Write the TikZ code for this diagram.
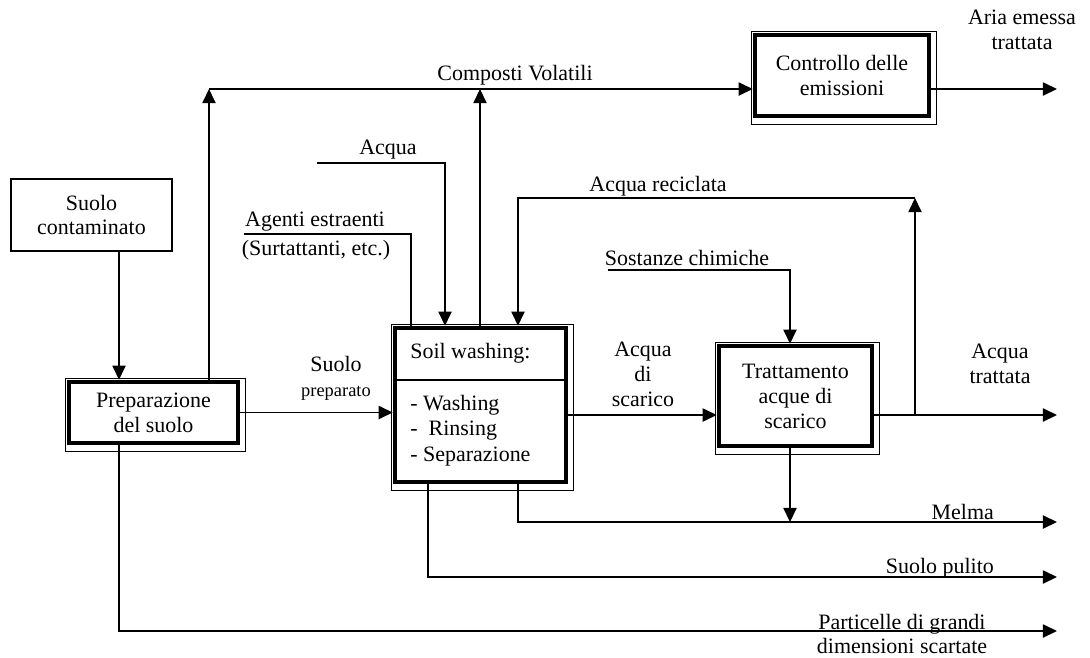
\documentclass[tikz,border=0pt]{standalone}
\usepackage{fontspec}
\setmainfont{Liberation Serif}
\usetikzlibrary{arrows.meta}

\tikzset{
  thinline/.style={line width=0.8pt},
  flow/.style={thinline, -{Triangle[length=8pt,width=7.5pt]}},
  inbox/.style={draw, thinline, align=center},
  procbox/.style={draw, line width=2.6pt, align=center},
  lbl/.style={align=center, inner sep=1pt},
  item/.style={anchor=west, inner sep=0pt},
}
% thin outer frame round a process box
\newcommand{\procframe}[1]{%
  \draw[line width=0.6pt] ([shift={(-1,-1)}]#1.north west) rectangle ([shift={(5,6)}]#1.south east);}

\begin{document}
\begin{tikzpicture}[x=0.02cm, y=-0.02cm, font=\fontsize{12.5}{14.2}\selectfont]
    \useasboundingbox (0,0) rectangle (1090,657);

    % Boxes
    \node[inbox, minimum width=3.22cm, minimum height=1.44cm] (cont) at (91.5,215) {Suolo\\contaminato};
    \node[procbox, minimum width=3.38cm, minimum height=1.22cm] (prep) at (153.5,412.5) {Preparazione\\del suolo};
    \node[procbox, minimum width=3.42cm, minimum height=3.08cm] (wash) at (480.5,405) {};
    \node[procbox, minimum width=3.06cm, minimum height=2.0cm] (tratt) at (795.5,396) {Trattamento\\acque di\\scarico};
    \node[procbox, minimum width=3.48cm, minimum height=1.62cm] (ctrl) at (842,75.5) {Controllo delle\\emissioni};
    \procframe{prep}
    \procframe{wash}
    \procframe{tratt}
    \procframe{ctrl}

    % Soil washing contents
    \coordinate (divrow) at (0,380);
    \draw[thinline] (wash.west |- divrow) -- (wash.east |- divrow);
    \node[item] (washhead) at (410,353) {Soil washing:};
    \node[item] (washa) at (410,405) {- Washing};
    \node[item] (washb) at (410,431) {-\ \ Rinsing};
    \node[item] (washc) at (410,457) {- Separazione};

    % Bends and free ends
    \coordinate (volL) at (209,89);
    \coordinate (volM) at (480,89);
    \coordinate (airout) at (1057,89);
    \coordinate (acqin) at (317,163);
    \coordinate (acqbend) at (445,163);
    \coordinate (agin) at (244,234);
    \coordinate (agbend) at (411,234);
    \coordinate (recup) at (915,198);
    \coordinate (recbend) at (518,198);
    \coordinate (sostin) at (608,270);
    \coordinate (sostbend) at (790,270);
    \coordinate (mainrow) at (0,415);
    \coordinate (wout) at (1057,415);
    \coordinate (melout) at (1057,522);
    \coordinate (pulbend) at (428,577);
    \coordinate (pulout) at (1057,577);
    \coordinate (partbend) at (119,631);
    \coordinate (partout) at (1057,631);

    % Main flow
    \draw[flow] (cont.south -| partbend) -- (prep.north -| partbend);
    \draw[flow] (prep.east) -- (prep.east -| wash.west);
    \draw[flow] (wash.east |- mainrow) -- (tratt.west |- mainrow);
    \draw[flow] (tratt.east |- mainrow) -- (wout);

    % Volatile compounds
    \draw[flow] (prep.north -| volL) -- (volL);
    \draw[flow] (wash.north -| volM) -- (volM);
    \draw[flow] (volL) -- (ctrl.west |- volL);
    \draw[flow] (ctrl.east |- volL) -- (airout);

    % Inputs to soil washing
    \draw[flow] (acqin) -- (acqbend) -- (wash.north -| acqbend);
    \draw[thinline] (agin) -- (agbend) -- (wash.north -| agbend);
    \draw[flow] (recup |- mainrow) -- (recup);
    \draw[flow] (recup) -- (recbend) -- (wash.north -| recbend);

    % Water treatment
    \draw[flow] (sostin) -- (sostbend) -- (tratt.north -| sostbend);
    \draw[flow] (tratt.south -| sostbend) -- (sostbend |- melout);

    % Outputs
    \draw[flow] (wash.south -| recbend) -- (recbend |- melout) -- (melout);
    \draw[flow] (wash.south -| pulbend) -- (pulbend) -- (pulout);
    \draw[flow] (prep.south -| partbend) -- (partbend) -- (partout);

    % Labels
    \node[lbl] (volat) at (515,75) {Composti Volatili};
    \node[lbl] (acqlbl) at (388,150) {Acqua};
    \node[lbl] (aglbl) at (315,222) {Agenti estraenti};
    \node[lbl] (surlbl) at (316,250) {(Surtattanti, etc.)};
    \node[lbl] (reclbl) at (658,186) {Acqua reciclata};
    \node[lbl] (sostlbl) at (687,258) {Sostanze chimiche};
    \node[lbl] (preplbl) at (336,378) {Suolo\\{\fontsize{10.5}{12}\selectfont preparato}};
    \node[lbl] (scarlbl) at (643,374) {Acqua\\di\\scarico};
    \node[lbl] (tratlbl) at (1000,364) {Acqua\\trattata};
    \node[lbl] (airlbl) at (1022,30) {Aria emessa\\trattata};
    \node[lbl, anchor=east] (mellbl) at (996,512) {Melma};
    \node[lbl, anchor=east] (pullbl) at (996,568) {Suolo pulito};
    \node[lbl] (partlbl) at (902,634) {Particelle di grandi\\dimensioni scartate};
\end{tikzpicture}
\end{document}
